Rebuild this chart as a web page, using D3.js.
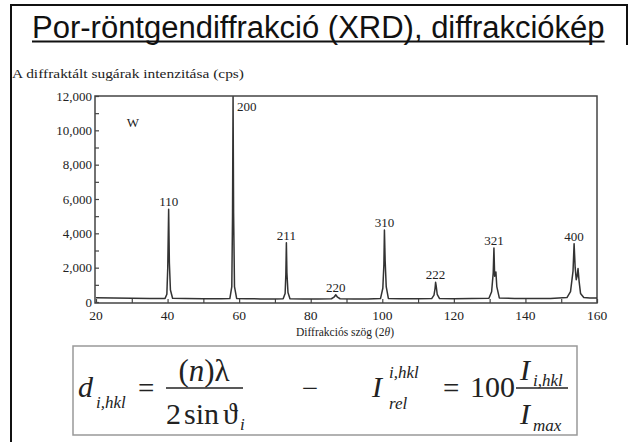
<!DOCTYPE html>
<html>
<head>
<meta charset="utf-8">
<script src="https://cdn.jsdelivr.net/npm/d3@7"></script>
<style>
  body { margin: 0; background: #fff; }
  svg { display: block; }
</style>
</head>
<body>
<svg id="chart"></svg>
<script>
const width = 629;
const height = 442;
const serif = "'Liberation Serif', 'Times New Roman', 'DejaVu Serif', serif";

// peaks (hkl reflections of W)
const hkl = ["110", "200", "211", "220", "310", "222", "321", "400"];
const peak2Theta = [40.3, 58.3, 73.2, 87.0, 100.6, 114.9, 131.2, 153.6];
const peakCounts = [5400, 11950, 3450, 420, 4200, 1150, 3150, 3400];

const spectrum = [
  [20, 250], [25, 230], [30, 220], [35, 210],
  [39.3, 210], [39.8, 450], [40.05, 2000], [40.3, 5400], [40.5, 2300], [40.8, 700], [41.4, 220],
  [45, 200], [50, 190], [55, 190],
  [57.4, 200], [57.95, 900], [58.15, 5000], [58.3, 11950], [58.45, 5200], [58.7, 900], [59.3, 210],
  [62, 190], [66, 180], [70, 180],
  [72.3, 190], [72.85, 500], [73.05, 1600], [73.2, 3450], [73.35, 1700], [73.65, 550], [74.2, 190],
  [78, 180], [82, 180],
  [85.8, 190], [86.5, 280], [87.0, 420], [87.5, 280], [88.2, 190],
  [92, 180], [96, 180],
  [99.5, 200], [100.15, 800], [100.45, 2200], [100.6, 4200], [100.8, 2400], [101.1, 900], [101.7, 210],
  [105, 190], [110, 190],
  [113.8, 200], [114.45, 400], [114.75, 800], [114.9, 1150], [115.05, 950], [115.35, 450], [116.0, 200],
  [120, 190], [125, 200],
  [129.8, 220], [130.55, 600], [131.0, 1700], [131.2, 3150], [131.4, 1500], [131.6, 1600], [131.75, 1750], [132.0, 900], [132.7, 240],
  [137, 210], [142, 200], [147, 210],
  [151.6, 260], [152.6, 600], [153.3, 1800], [153.6, 3400], [153.9, 2000], [154.2, 1300], [154.45, 1500], [154.7, 1950], [155.0, 1200], [155.4, 500], [156.3, 260],
  [158, 240], [160, 240]
];

const xTicks = [20, 40, 60, 80, 100, 120, 140, 160];
const yTicks = [0, 2000, 4000, 6000, 8000, 10000, 12000];

const svg = d3.select("#chart")
    .attr("width", width)
    .attr("height", height);

// slide frame
svg.append("path")
    .attr("d", "M627,45 V5 H11 V442")
    .attr("fill", "none")
    .attr("stroke", "#111")
    .attr("stroke-width", 2);

// title
const title = svg.append("text")
    .attr("x", 32)
    .attr("y", 38)
    .style("font-family", "'Liberation Sans', Arial, sans-serif")
    .style("font-size", "31px")
    .attr("fill", "#111")
    .text("Por-röntgendiffrakció (XRD), diffrakciókép");
const tw = title.node().getComputedTextLength();
svg.append("line")
    .attr("x1", 32).attr("x2", 32 + tw)
    .attr("y1", 41.5).attr("y2", 41.5)
    .attr("stroke", "#111")
    .attr("stroke-width", 2);

// plot
const x = d3.scaleLinear().domain([20, 160]).range([96, 597]);
const y = d3.scaleLinear().domain([0, 12000]).range([302, 96]);

const g = svg.append("g")
    .style("font-family", serif)
    .attr("fill", "#222");

g.append("text")
    .attr("x", 12)
    .attr("y", 78)
    .attr("textLength", 232)
    .attr("lengthAdjust", "spacingAndGlyphs")
    .style("font-size", "12.5px")
    .text("A diffraktált sugárak intenzitása (cps)");

g.append("rect")
    .attr("x", x(20) - 1)
    .attr("y", y(12000))
    .attr("width", x(160) - x(20) + 1)
    .attr("height", y(0) - y(12000) + 1)
    .attr("fill", "none")
    .attr("stroke", "#444")
    .attr("stroke-width", 1.5);

// inward ticks
g.append("g")
    .attr("transform", `translate(${x(20) - 1},0)`)
    .call(d3.axisRight(y).tickValues(d3.range(0, 12001, 1000)).tickSize(4).tickFormat(""));
g.append("g")
    .attr("transform", `translate(0,${y(0) + 1})`)
    .call(d3.axisTop(x).tickValues(d3.range(20, 161, 10)).tickSize(4).tickFormat(""));
g.selectAll(".domain").remove();
g.selectAll(".tick line").attr("stroke", "#444").attr("stroke-width", 1.2);

g.append("g")
    .selectAll("text")
    .data(yTicks)
  .enter().append("text")
    .attr("x", 92)
    .attr("y", d => y(d) + 4.5)
    .attr("text-anchor", "end")
    .style("font-size", "13px")
    .text(d => d3.format(",")(d));

g.append("g")
    .selectAll("text")
    .data(xTicks)
  .enter().append("text")
    .attr("x", d => x(d))
    .attr("y", 320)
    .attr("text-anchor", "middle")
    .style("font-size", "13.5px")
    .text(d => d);

const xLabel = g.append("text")
    .attr("x", 345)
    .attr("y", 336)
    .attr("text-anchor", "middle")
    .style("font-size", "11.5px");
xLabel.append("tspan").text("Diffrakciós szög (2");
xLabel.append("tspan").style("font-style", "italic").text("θ");
xLabel.append("tspan").text(")");

const line = d3.line()
    .x(d => x(d[0]))
    .y(d => y(d[1]));

g.append("path")
    .datum(spectrum)
    .attr("d", line)
    .attr("fill", "none")
    .attr("stroke", "#333")
    .attr("stroke-width", 1.5)
    .attr("stroke-linejoin", "round");

g.append("text")
    .attr("x", 133)
    .attr("y", 127)
    .attr("text-anchor", "middle")
    .style("font-size", "13px")
    .text("W");

g.append("g")
    .selectAll("text")
    .data(hkl)
  .enter().append("text")
    .attr("x", (d, i) => peakCounts[i] > 11000 ? x(peak2Theta[i]) + 4 : x(peak2Theta[i]))
    .attr("y", (d, i) => peakCounts[i] > 11000 ? y(peakCounts[i]) + 14 : y(peakCounts[i]) - 3)
    .attr("text-anchor", (d, i) => peakCounts[i] > 11000 ? "start" : "middle")
    .style("font-size", "13px")
    .text(d => d);

// formula box
const f = svg.append("g")
    .style("font-family", serif)
    .attr("fill", "#222");
f.append("rect")
    .attr("x", 73).attr("y", 346)
    .attr("width", 504).attr("height", 89)
    .attr("fill", "none")
    .attr("stroke", "#999")
    .attr("stroke-width", 1.5);

function put(txt, px, py, size, italic, anchor) {
  f.append("text")
      .attr("x", px).attr("y", py)
      .attr("text-anchor", anchor || "start")
      .style("font-size", size + "px")
      .style("font-style", italic ? "italic" : "normal")
      .text(txt);
}

put("d", 78, 397, 30, true);
put("i,hkl", 96, 408, 17, true);
put("=", 138, 398, 29, false);
f.append("line").attr("x1", 166).attr("x2", 243).attr("y1", 388).attr("y2", 388)
    .attr("stroke", "#222").attr("stroke-width", 1.5);
const num = f.append("text").attr("x", 204).attr("y", 381).attr("text-anchor", "middle").style("font-size", "31px");
num.append("tspan").text("(");
num.append("tspan").style("font-style", "italic").text("n");
num.append("tspan").text(")λ");
put("2", 166, 424, 30, false);
put("sin", 184, 424, 30, false);
put("ϑ", 223, 424, 30, false);
put("i", 240, 430, 17, true);

put("−", 310, 398, 29, false, "middle");

put("I", 372, 397, 30, true);
put("i,hkl", 389, 378, 17, true);
put("rel", 389, 409, 17, true);
put("=", 443, 398, 29, false);
put("100", 470, 397, 30, false);
f.append("line").attr("x1", 516).attr("x2", 568).attr("y1", 388).attr("y2", 388)
    .attr("stroke", "#222").attr("stroke-width", 1.5);
put("I", 520, 380, 30, true);
put("i,hkl", 533, 386, 17, true);
put("I", 520, 424, 30, true);
put("max", 533, 431, 17, true);
</script>
</body>
</html>
